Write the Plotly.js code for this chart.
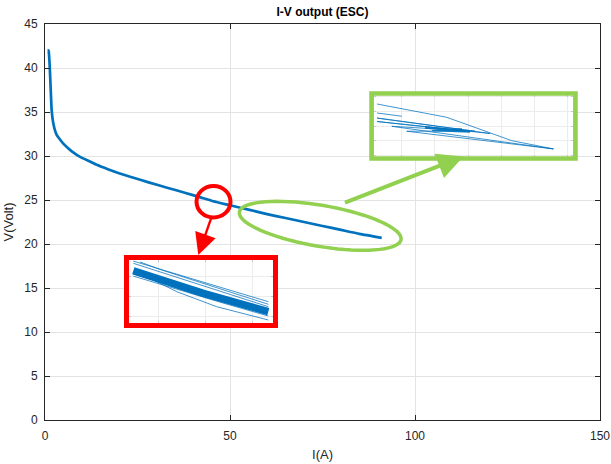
<!DOCTYPE html>
<html>
<head>
<meta charset="utf-8">
<script src="https://cdn.plot.ly/plotly-3.0.1.min.js"></script>
<style>html,body{margin:0;padding:0;background:#fff;}#chart{width:611px;height:464px;}</style>
</head>
<body>
<div id="chart"></div>
<script>
// ---- main I-V curve ----
const currentA = [0.7, 0.9, 1.0, 1.2, 1.4, 1.6, 1.8, 2.25, 3.15, 4.0, 4.95, 6.75, 8.0, 9.5, 12, 14, 17, 20, 23, 28, 33, 38, 42, 45.5, 50, 55, 60, 65, 70, 75, 80, 85, 91];
const voltageV = [42.0, 42.0, 41.9, 40.8, 39.0, 37.0, 35.2, 33.7, 32.4, 31.9, 31.4, 30.7, 30.3, 29.9, 29.4, 29.0, 28.5, 28.05, 27.65, 27.0, 26.4, 25.8, 25.3, 24.85, 24.4, 23.9, 23.4, 22.95, 22.5, 22.05, 21.6, 21.15, 20.7];

// ---- red zoom inset (around I ~ 44-45 A) ----
const redBandI = [43.737, 44.482, 45.173];
const redBandV = [25.08, 24.967, 24.875];
const redThinI = [43.737, 45.173, null, 43.809, 44.039, 45.173, null, 43.737, 45.173, null,
                  43.737, 43.95, 44.199, 44.624, 45.173, null, 43.737, 44.447, 44.691, 45.173];
const redThinV = [25.128, 24.925, null, 25.1235, 25.0835, 24.912, null, 25.117, 24.90, null,
                  25.0635, 25.0335, 24.975, 24.90, 24.8335, null, 25.053, 24.95, 24.9185, 24.8535];

// ---- green zoom inset (end of curve, I ~ 90-91 A) ----
const greenThinI = [89.815, 90.339, 90.828, 91.141, 89.926, 90.552, 89.815, 90.665, 89.815, 90.477, 90.038, 91.141, null, 89.815, 90.001];
const greenThinV = [20.947, 20.858, 20.702, 20.647, 20.798, 20.765, 20.853, 20.750, 20.83, 20.767, 20.765, 20.647, null, 20.887, 20.865];
const greenCoreI = [90.176, 90.514, 90.229, 90.454];
const greenCoreV = [20.79, 20.763, 20.773, 20.777];

const xTicks = [0, 50, 100, 150];
const yTicks = [0, 5, 10, 15, 20, 25, 30, 35, 40, 45];

// pixel helpers for decorations (plot area 45..600 x 24..420)
const L = 45, R = 600, T = 24, B = 420;
const fx = p => (p - L) / (R - L);
const fy = p => (B - p) / (B - T);

const blue = '#0072BD';
const green = '#92D050';
const red = '#FF0000';
const font = 'Liberation Sans, Arial, Helvetica, sans-serif';

const redXR = [43.691, 45.223], redYR = [24.8185, 25.1335];
const grnXR = [89.792, 91.288], grnYR = [20.593, 21.007];

const traces = [
  {x: currentA, y: voltageV, type: 'scatter', mode: 'lines', line: {color: blue, width: 2.7, shape: 'spline', smoothing: 0.5}, xaxis: 'x', yaxis: 'y', hoverinfo: 'skip'},
  {x: redThinI, y: redThinV, type: 'scatter', mode: 'lines', line: {color: 'rgba(0,114,189,0.75)', width: 1}, xaxis: 'x2', yaxis: 'y2', connectgaps: false},
  {x: redBandI, y: redBandV, type: 'scatter', mode: 'lines', line: {color: blue, width: 7.5}, xaxis: 'x2', yaxis: 'y2'},
  {x: greenThinI, y: greenThinV, type: 'scatter', mode: 'lines', line: {color: 'rgba(0,114,189,0.75)', width: 1}, xaxis: 'x3', yaxis: 'y3', connectgaps: false},
  {x: greenCoreI, y: greenCoreV, type: 'scatter', mode: 'lines', line: {color: 'rgba(0,114,189,0.9)', width: 2.5}, xaxis: 'x3', yaxis: 'y3'}
];

function insetAxis(domain, range, tick0, dtick, anchor) {
  return {domain: domain, range: range, tick0: tick0, dtick: dtick, anchor: anchor,
    showgrid: true, gridcolor: '#ececec', gridwidth: 1, zeroline: false,
    showticklabels: false, ticks: 'inside', ticklen: 2, tickcolor: '#c8c8c8',
    showline: true, linecolor: '#c0c0c0', linewidth: 1, mirror: 'ticks', fixedrange: true};
}

// rotated ellipse path (green)
function ellipsePath(cx, cy, a, b, deg) {
  const th = deg * Math.PI / 180;
  let s = '';
  for (let i = 0; i <= 72; i++) {
    const t = i / 72 * 2 * Math.PI;
    const px = cx + a * Math.cos(th) * Math.cos(t) - b * Math.sin(th) * Math.sin(t);
    const py = cy + a * Math.sin(th) * Math.cos(t) + b * Math.cos(th) * Math.sin(t);
    s += (i === 0 ? 'M' : 'L') + fx(px).toFixed(5) + ',' + fy(py).toFixed(5);
  }
  return s + 'Z';
}

const redX = [fx(129), fx(273)], redY = [fy(323), fy(260)];
const grnX = [fx(374), fx(573)], grnY = [fy(157), fy(95)];

const layout = {
  width: 611, height: 464,
  margin: {l: L, r: 611 - R, t: T, b: 464 - B, pad: 0},
  paper_bgcolor: '#ffffff', plot_bgcolor: '#ffffff',
  showlegend: false,
  title: {text: '<b>I-V output (ESC)</b>', font: {family: font, size: 12, color: '#000'},
          x: 0.5, xref: 'paper', y: 1 - 11.5 / 464, yref: 'container', yanchor: 'middle'},
  xaxis: {range: [0, 150], tickvals: xTicks, ticktext: xTicks.map(String),
    showgrid: true, gridcolor: '#e3e3e3', zeroline: false,
    ticks: 'inside', ticklen: 5, tickcolor: '#262626', showline: true, linecolor: '#262626', linewidth: 1, mirror: 'ticks',
    tickfont: {family: font, size: 12, color: '#262626'}, ticklabelstandoff: 5,
    title: {text: 'I(A)', font: {family: font, size: 13, color: '#262626'}, standoff: 7}, fixedrange: true},
  yaxis: {range: [0, 45], tickvals: yTicks, ticktext: yTicks.map(String),
    showgrid: true, gridcolor: '#e3e3e3', zeroline: false,
    ticks: 'inside', ticklen: 5, tickcolor: '#262626', showline: true, linecolor: '#262626', linewidth: 1, mirror: 'ticks',
    tickfont: {family: font, size: 12, color: '#262626'}, ticklabelstandoff: 4,
    title: {text: 'V(Volt)', font: {family: font, size: 13, color: '#262626'}, standoff: 7}, fixedrange: true},
  xaxis2: insetAxis(redX, redXR, 44, 0.5, 'y2'),
  yaxis2: insetAxis(redY, redYR, 25.05, 0.1, 'x2'),
  xaxis3: insetAxis(grnX, grnXR, 90, 0.25, 'y3'),
  yaxis3: insetAxis(grnY, grnYR, 20.7, 0.1, 'x3'),
  shapes: [
    // white backgrounds of insets (above main grid, below inset grid/traces)
    {type: 'rect', xref: 'x2', yref: 'y2', x0: redXR[0], x1: redXR[1], y0: redYR[0], y1: redYR[1], fillcolor: '#ffffff', line: {width: 0}, layer: 'below'},
    {type: 'rect', xref: 'x3', yref: 'y3', x0: grnXR[0], x1: grnXR[1], y0: grnYR[0], y1: grnYR[1], fillcolor: '#ffffff', line: {width: 0}, layer: 'below'},
    // inset borders
    {type: 'rect', xref: 'paper', yref: 'paper', x0: fx(126.5), x1: fx(275.5), y0: fy(325.5), y1: fy(257.5), line: {color: red, width: 5}, layer: 'above'},
    {type: 'rect', xref: 'paper', yref: 'paper', x0: fx(371.5), x1: fx(575.5), y0: fy(158.5), y1: fy(93.5), line: {color: green, width: 4.5}, layer: 'above'},
    // red circle
    {type: 'circle', xref: 'paper', yref: 'paper', x0: fx(196.5), x1: fx(230.5), y0: fy(217.5), y1: fy(186), line: {color: red, width: 4}, layer: 'above'},
    // green ellipse
    {type: 'path', xref: 'paper', yref: 'paper', path: ellipsePath(320.2, 225.8, 82, 20.5, 9.7), line: {color: green, width: 3.5}, layer: 'above'}
  ],
  annotations: [
    {xref: 'paper', yref: 'paper', x: fx(198.3), y: fy(255), ax: 13.4, ay: -38.3, text: '', showarrow: true,
     arrowhead: 2, arrowsize: 1.8, arrowwidth: 2.4, arrowcolor: red, standoff: 0},
    {xref: 'paper', yref: 'paper', x: fx(463.5), y: fy(156.5), ax: -120, ay: 46.8, text: '', showarrow: true,
     arrowhead: 2, arrowsize: 1.3, arrowwidth: 4, arrowcolor: green, standoff: 0}
  ]
};

Plotly.newPlot('chart', traces, layout, {staticPlot: true, displayModeBar: false});
</script>
</body>
</html>
